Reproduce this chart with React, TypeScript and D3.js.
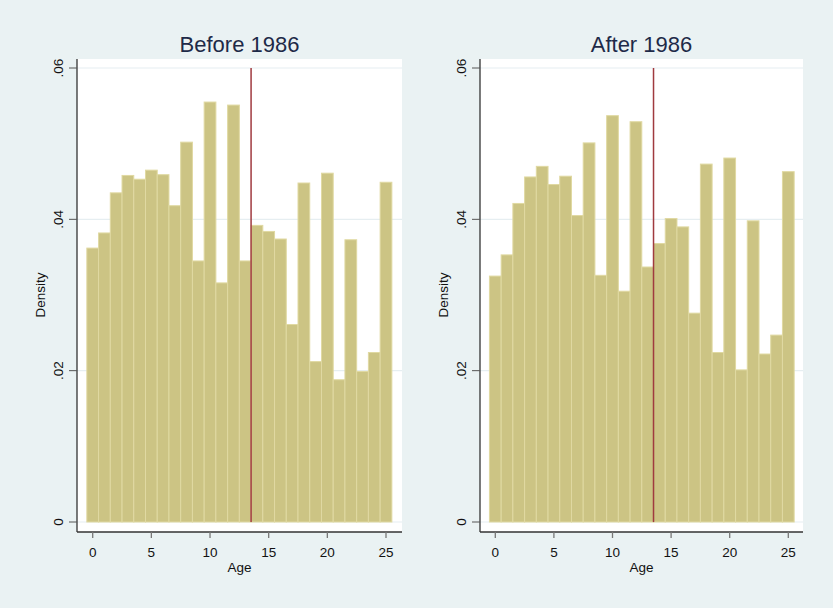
import React from "react";
import * as d3 from "d3";

// age bins 0..25, density per bin
const ages = d3.range(0, 26);
const beforeDensity = [
  0.0362, 0.0382, 0.0435, 0.0458, 0.0453, 0.0465, 0.0459, 0.0418, 0.0502, 0.0345,
  0.0555, 0.0316, 0.0551, 0.0345, 0.0392, 0.0384, 0.0374, 0.0261, 0.0448, 0.0212,
  0.0461, 0.0188, 0.0373, 0.0199, 0.0224, 0.0449,
];
const afterDensity = [
  0.0325, 0.0353, 0.0421, 0.0456, 0.047, 0.0446, 0.0457, 0.0405, 0.0501, 0.0326,
  0.0537, 0.0305, 0.0529, 0.0337, 0.0368, 0.0401, 0.039, 0.0276, 0.0473, 0.0224,
  0.0481, 0.0201, 0.0398, 0.0222, 0.0247, 0.0463,
];
const panelTitles = ["Before 1986", "After 1986"];
const xTicks = [0, 5, 10, 15, 20, 25];
const yTicks = [0, 0.02, 0.04, 0.06];
const yTickLabels = ["0", ".02", ".04", ".06"];
const cutoff = 13.5;

const font = "'Liberation Sans', Arial, sans-serif";

type PanelProps = {
  title: string;
  values: number[];
  axisX: number;
  plotRight: number;
  x0: number;
  x25: number;
};

function Panel({ title, values, axisX, plotRight, x0, x25 }: PanelProps) {
  const plotTop = 59;
  const axisY = 532;
  const x = d3.scaleLinear().domain([0, 25]).range([x0, x25]);
  const y = d3.scaleLinear().domain([0, 0.06]).range([522, 68]);
  const half = (x(1) - x(0)) / 2;
  const midX = (axisX + plotRight) / 2;

  return (
    <g>
      <rect x={axisX} y={plotTop} width={plotRight - axisX} height={axisY - plotTop} fill="#ffffff" />
      {yTicks.map((t) => (
        <line key={t} x1={axisX} x2={plotRight} y1={y(t)} y2={y(t)} stroke="#e6eef1" strokeWidth={1.2} />
      ))}
      {values.map((v, i) => (
        <rect
          key={i}
          x={x(ages[i]) - half}
          y={y(v)}
          width={half * 2}
          height={y(0) - y(v)}
          fill="#ccc484"
          stroke="#e0d9a2"
          strokeWidth={1}
        />
      ))}
      <line x1={x(cutoff)} x2={x(cutoff)} y1={y(0.06)} y2={y(0)} stroke="#a03a3f" strokeWidth={1.5} />
      {/* axes */}
      <line x1={axisX} x2={axisX} y1={plotTop} y2={axisY} stroke="#333" strokeWidth={1.3} />
      <line x1={axisX} x2={plotRight} y1={axisY} y2={axisY} stroke="#333" strokeWidth={1.3} />
      {yTicks.map((t, i) => (
        <g key={t}>
          <line x1={axisX - 8} x2={axisX} y1={y(t)} y2={y(t)} stroke="#555" strokeWidth={1} />
          <text
            transform={`translate(${axisX - 14},${y(t)}) rotate(-90)`}
            textAnchor="middle"
            fontSize={13.5}
            fontFamily={font}
            fill="#111"
          >
            {yTickLabels[i]}
          </text>
        </g>
      ))}
      {xTicks.map((t) => (
        <g key={t}>
          <line x1={x(t)} x2={x(t)} y1={axisY} y2={axisY + 6} stroke="#777" strokeWidth={1.3} />
          <text x={x(t)} y={556.5} textAnchor="middle" fontSize={13.5} fontFamily={font} fill="#111">
            {t}
          </text>
        </g>
      ))}
      <text x={midX} y={571.5} textAnchor="middle" fontSize={13.5} fontFamily={font} fill="#111">
        Age
      </text>
      <text
        transform={`translate(${axisX - 32},295) rotate(-90)`}
        textAnchor="middle"
        fontSize={13.5}
        fontFamily={font}
        fill="#111"
      >
        Density
      </text>
      <text x={midX} y={51.5} textAnchor="middle" fontSize={22} fontFamily={font} fill="#1e2a48">
        {title}
      </text>
    </g>
  );
}

export default function App() {
  return (
    <svg
      width={833}
      height={608}
      style={{ position: "absolute", left: 0, top: 0, background: "#eaf2f3" }}
    >
      <rect x={0} y={0} width={833} height={608} fill="#eaf2f3" />
      <Panel title={panelTitles[0]} values={beforeDensity} axisX={77} plotRight={402} x0={92.7} x25={386} />
      <Panel title={panelTitles[1]} values={afterDensity} axisX={480} plotRight={803} x0={495.3} x25={788.3} />
    </svg>
  );
}
